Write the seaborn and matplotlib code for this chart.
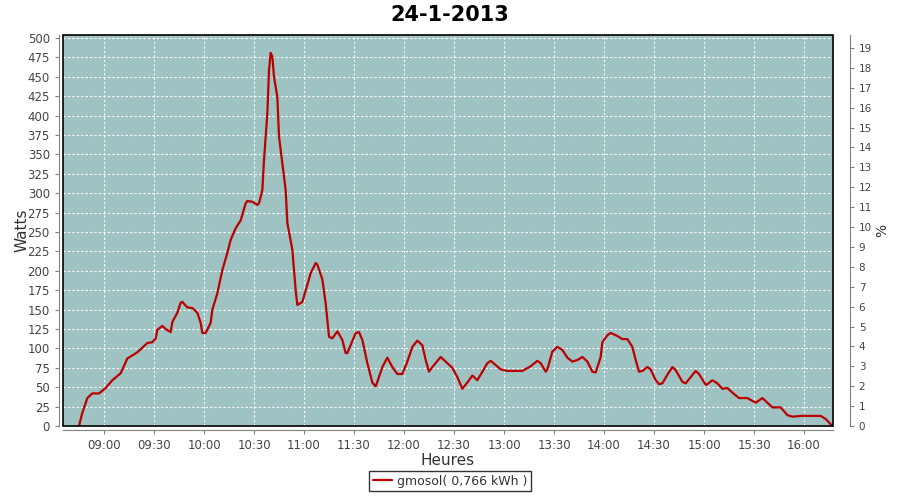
import pandas as pd
import matplotlib
matplotlib.use("Agg")
import matplotlib.pyplot as plt
import matplotlib.dates as mdates
from matplotlib.patches import Rectangle
import seaborn as sns

title = "24-1-2013"
series_name = "gmosol( 0,766 kWh )"

times = ["08:45", "08:47", "08:50", "08:53", "08:57", "09:01", "09:05", "09:10", "09:14", "09:17",
         "09:20", "09:26", "09:29", "09:31", "09:32", "09:35", "09:37", "09:40", "09:41", "09:44",
         "09:46", "09:47", "09:50", "09:53", "09:56", "09:58", "09:59", "10:01", "10:04", "10:05",
         "10:08", "10:11", "10:14", "10:16", "10:19", "10:22", "10:25", "10:26", "10:29", "10:32",
         "10:33", "10:35", "10:36", "10:38", "10:39", "10:40", "10:41", "10:42", "10:44", "10:45",
         "10:47", "10:49", "10:50", "10:53", "10:55", "10:56", "10:59", "11:01", "11:04", "11:07",
         "11:08", "11:11", "11:13", "11:15", "11:17", "11:20", "11:23", "11:25", "11:26", "11:31",
         "11:33", "11:35", "11:38", "11:41", "11:43", "11:44", "11:47", "11:50", "11:53", "11:56",
         "11:59", "12:02", "12:05", "12:08", "12:11", "12:13", "12:15", "12:17", "12:22", "12:26",
         "12:29", "12:32", "12:35", "12:38", "12:41", "12:44", "12:50", "12:52", "12:58", "13:02",
         "13:11", "13:16", "13:20", "13:22", "13:25", "13:26", "13:29", "13:32", "13:35", "13:38",
         "13:41", "13:44", "13:47", "13:50", "13:53", "13:55", "13:58", "13:59", "14:02", "14:04",
         "14:08", "14:11", "14:14", "14:17", "14:19", "14:21", "14:23", "14:26", "14:28", "14:31",
         "14:33", "14:35", "14:38", "14:41", "14:43", "14:47", "14:49", "14:52", "14:55", "14:57",
         "15:01", "15:02", "15:05", "15:08", "15:11", "15:14", "15:17", "15:21", "15:26", "15:31",
         "15:35", "15:41", "15:46", "15:50", "15:53", "15:58", "16:05", "16:10", "16:13", "16:17"]

watts = [0, 17, 36, 42, 42, 49, 59, 68, 87, 91,
         95, 107, 108, 113, 124, 129, 125, 121, 134, 146,
         159, 160, 153, 152, 146, 133, 120, 120, 133, 150,
         171, 201, 223, 240, 255, 265, 287, 290, 289, 285,
         287, 304, 343, 403, 459, 481, 476, 450, 424, 373,
         339, 304, 262, 227, 175, 156, 160, 175, 197, 210,
         208, 189, 158, 115, 113, 122, 111, 94, 94, 120,
         121, 111, 81, 56, 51, 57, 76, 88, 76, 67,
         67, 83, 102, 110, 104, 85, 70, 76, 89, 81,
         75, 63, 48, 56, 65, 59, 81, 84, 73, 71,
         71, 77, 84, 81, 70, 73, 96, 102, 98, 88,
         83, 85, 89, 83, 70, 69, 89, 108, 117, 120,
         116, 112, 112, 102, 85, 70, 71, 76, 73, 59,
         54, 55, 66, 76, 72, 57, 55, 63, 71, 67,
         53, 54, 59, 55, 48, 49, 43, 36, 36, 30,
         36, 24, 24, 14, 12, 13, 13, 13, 9, 0]

df = pd.DataFrame({"time": pd.to_datetime("2013-01-24 " + pd.Series(times)), "Watts": watts})

sns.set_style("white")
plt.rcParams["font.family"] = ["DejaVu Sans"]

fig = plt.figure(figsize=(9, 5), dpi=100)
ax = fig.add_axes([0.07, 0.148, 0.8556, 0.782])
ax.set_facecolor("#9fc2c2")

sns.lineplot(data=df, x="time", y="Watts", ax=ax, color="#bb0000", linewidth=1.6,
             label=series_name, legend=False)

ax.set_ylim(0, 504)
ax.set_yticks(range(0, 501, 25))
ax.set_xlim(pd.Timestamp("2013-01-24 08:35:24"), pd.Timestamp("2013-01-24 16:17:24"))
ax.xaxis.set_major_locator(mdates.MinuteLocator(byminute=[0, 30]))
ax.xaxis.set_major_formatter(mdates.DateFormatter("%H:%M"))
ax.grid(True, color="white", linestyle=(0, (2, 2)), linewidth=0.8)

for side in ["top", "right"]:
    ax.spines[side].set_visible(False)
for side in ["left", "bottom"]:
    ax.spines[side].set_position(("outward", 3))
    ax.spines[side].set_color("#808080")
ax.add_patch(Rectangle((0, 0), 1, 1, transform=ax.transAxes, fill=False,
                       edgecolor="black", linewidth=1.2, clip_on=False, zorder=5))
ax.tick_params(axis="both", direction="out", length=3, color="#808080",
               labelsize=8.5, labelcolor="#444444", left=True, bottom=True)
ax.set_xlabel("Heures", fontsize=11, color="#333333")
ax.set_ylabel("Watts", fontsize=11, color="#333333")
ax.xaxis.set_label_coords(0.5, -0.069)
ax.yaxis.set_label_coords(-0.044, 0.5)

ax2 = ax.twinx()
ax2.set_ylim(0, 19.65)
ax2.set_yticks(range(0, 20))
for side in ["top", "left", "bottom"]:
    ax2.spines[side].set_visible(False)
ax2.spines["right"].set_position(("outward", 12))
ax2.spines["right"].set_color("#808080")
ax2.tick_params(axis="y", direction="out", length=3, color="#808080",
                labelsize=7.5, labelcolor="#444444")
ax2.set_ylabel("%", fontsize=10, color="#333333")
ax2.yaxis.set_label_coords(1.055, 0.5)

fig.suptitle(title, fontsize=15, fontweight="bold", color="black", y=0.99)

handles, labels = ax.get_legend_handles_labels()
leg = fig.legend(handles, labels, loc="lower center", bbox_to_anchor=(0.5, 0.005),
                 frameon=True, fancybox=False, edgecolor="black", fontsize=9,
                 handlelength=1.5, handletextpad=0.4, borderpad=0.3)
leg.get_frame().set_linewidth(1)
for t in leg.get_texts():
    t.set_color("#333333")

fig.savefig("out.png", dpi=100)
